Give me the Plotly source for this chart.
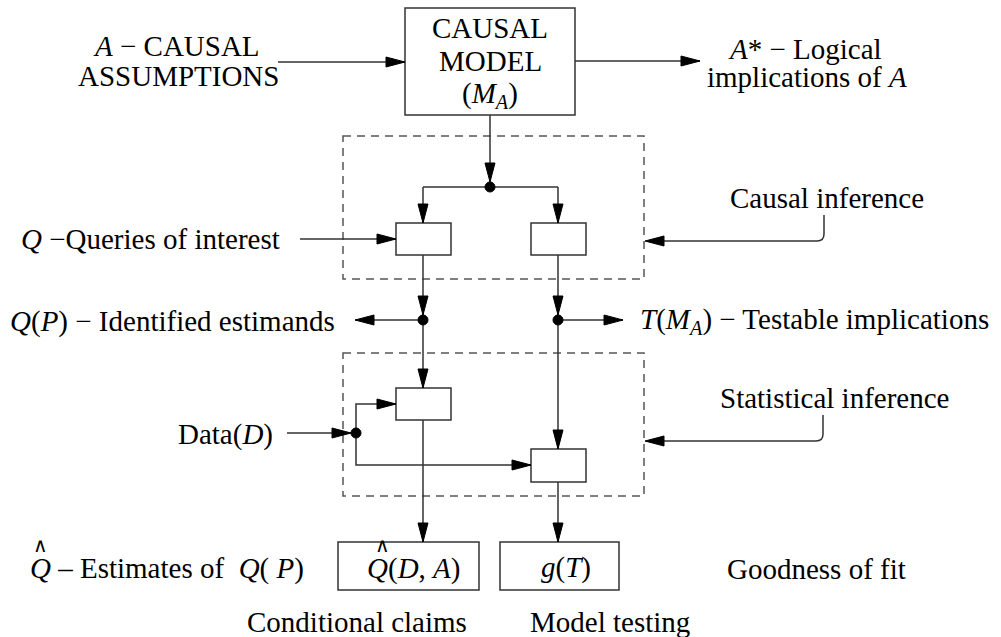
import plotly.graph_objects as go

# ---- text content ----
top_left_lines = ["<i>A</i> − CAUSAL", "ASSUMPTIONS"]
top_right_lines = ["<i>A</i>* − Logical", "implications of <i>A</i>"]
model_lines = ["CAUSAL", "MODEL", "(<i>M<sub>A</sub></i>)"]
queries_label = "<i>Q</i> −Queries of interest"
estimands_label = "<i>Q</i>(<i>P</i>) − Identified estimands"
testable_label = "<i>T</i>(<i>M<sub>A</sub></i>) − Testable implications"
data_label = "Data(<i>D</i>)"
causal_inf_label = "Causal inference"
stat_inf_label = "Statistical inference"
estimates_label = "<i>Q</i> – Estimates of  <i>Q</i>( <i>P</i>)"
qhat_box_label = "<i>Q</i>(<i>D</i>, <i>A</i>)"
g_box_label = "<i>g</i>(<i>T</i>)"
gof_label = "Goodness of fit"
cond_label = "Conditional claims"
model_test_label = "Model testing"
hat_symbol = "∧"

FONT = "'Liberation Serif', 'Times New Roman', Times, serif"
FS = 29
LC = "#333333"
LW = 1.5

shapes = []
annotations = []


def line(pts, color=LC, width=LW, dash=None):
    d = "M " + " L ".join(f"{x},{y}" for x, y in pts)
    ln = dict(color=color, width=width)
    if dash:
        ln["dash"] = dash
    shapes.append(dict(type="path", path=d, xref="x", yref="y", line=ln))


def arrowhead(x, y, direction, L=19, W=5):
    if direction == "right":
        pts = [(x, y), (x - L, y - W), (x - L, y + W)]
    elif direction == "left":
        pts = [(x, y), (x + L, y - W), (x + L, y + W)]
    elif direction == "down":
        pts = [(x, y), (x - W, y - L), (x + W, y - L)]
    else:
        pts = [(x, y), (x - W, y + L), (x + W, y + L)]
    d = "M " + " L ".join(f"{a},{b}" for a, b in pts) + " Z"
    shapes.append(dict(type="path", path=d, xref="x", yref="y",
                       fillcolor="black", line=dict(color="black", width=1)))


def arrow(pts, direction):
    line(pts)
    arrowhead(pts[-1][0], pts[-1][1], direction)


def rect(x0, y0, x1, y1, dash=None, color=LC):
    ln = dict(color=color, width=LW)
    if dash:
        ln["dash"] = dash
    shapes.append(dict(type="rect", x0=x0, y0=y0, x1=x1, y1=y1, xref="x", yref="y",
                       line=ln, fillcolor="rgba(0,0,0,0)"))


def dot(x, y, r=5):
    shapes.append(dict(type="circle", x0=x - r, y0=y - r, x1=x + r, y1=y + r,
                       xref="x", yref="y", fillcolor="black", line=dict(color="black", width=1)))


def text(x, y, s, xanchor="center", size=FS):
    annotations.append(dict(x=x, y=y, text=s, showarrow=False, xref="x", yref="y",
                            xanchor=xanchor, yanchor="middle",
                            font=dict(family=FONT, size=size, color="black")))


# ---- boxes ----
rect(405, 8, 575, 115)
rect(343, 136, 644, 279, dash="8px,6px", color="#555555")
rect(343, 353, 644, 496, dash="8px,6px", color="#555555")
rect(396, 223, 451, 255)
rect(531, 223, 586, 255)
rect(396, 388, 451, 420)
rect(531, 449, 586, 482)
rect(338, 542, 479, 590)
rect(500, 542, 619, 590)

# ---- arrows / connectors ----
arrow([(278, 62), (405, 62)], "right")
arrow([(575, 61), (700, 61)], "right")
arrow([(490, 115), (490, 182)], "down")
line([(423, 187), (558, 187)])
arrow([(423, 187), (423, 223)], "down")
arrow([(558, 187), (558, 223)], "down")
arrow([(300, 239), (396, 239)], "right")
arrow([(423, 255), (423, 315)], "down")
arrow([(423, 320), (355, 320)], "left")
arrow([(423, 320), (423, 388)], "down")
arrow([(558, 255), (558, 315)], "down")
arrow([(558, 320), (623, 320)], "right")
arrow([(558, 320), (558, 449)], "down")
arrow([(287, 433), (351, 433)], "right")
arrow([(356, 433), (356, 404), (396, 404)], "right")
arrow([(356, 433), (356, 465), (531, 465)], "right")
arrow([(423, 420), (423, 542)], "down")
arrow([(558, 482), (558, 542)], "down")

# curved callouts
shapes.append(dict(type="path", path="M 824,215 L 824,234 Q 824,241 817,241 L 660,241",
                   xref="x", yref="y", line=dict(color=LC, width=LW)))
arrowhead(645, 241, "left")
shapes.append(dict(type="path", path="M 823,415 L 823,434 Q 823,441 816,441 L 660,441",
                   xref="x", yref="y", line=dict(color=LC, width=LW)))
arrowhead(645, 441, "left")

# ---- dots ----
dot(490, 187)
dot(423, 320)
dot(558, 320)
dot(356, 433)

# ---- text ----
text(176, 46, top_left_lines[0])
text(178, 76, top_left_lines[1])
text(805, 49, top_right_lines[0])
text(807, 77, top_right_lines[1])
text(490, 28, model_lines[0])
text(490, 61, model_lines[1])
text(490, 95, model_lines[2])
text(282, 239, queries_label, xanchor="right")
text(337, 321, estimands_label, xanchor="right")
text(638, 321, testable_label, xanchor="left")
text(275, 434, data_label, xanchor="right")
text(728, 198, causal_inf_label, xanchor="left")
text(718, 398, stat_inf_label, xanchor="left")
text(28, 568, estimates_label, xanchor="left")
text(40, 545, hat_symbol, size=20)
text(413, 568, qhat_box_label)
text(382, 545, hat_symbol, size=20)
text(566, 567, g_box_label)
text(725, 569, gof_label, xanchor="left")
text(357, 622, cond_label)
text(610, 622, model_test_label)

fig = go.Figure()
fig.update_layout(
    width=1001, height=637,
    margin=dict(l=0, r=0, t=0, b=0),
    paper_bgcolor="white", plot_bgcolor="white",
    xaxis=dict(range=[0, 1001], visible=False, fixedrange=True),
    yaxis=dict(range=[637, 0], visible=False, fixedrange=True),
    shapes=shapes, annotations=annotations, showlegend=False,
)
fig.write_html("out.html", config={"displayModeBar": False},
               post_script="document.body.style.margin='0';document.body.style.overflow='hidden';")
